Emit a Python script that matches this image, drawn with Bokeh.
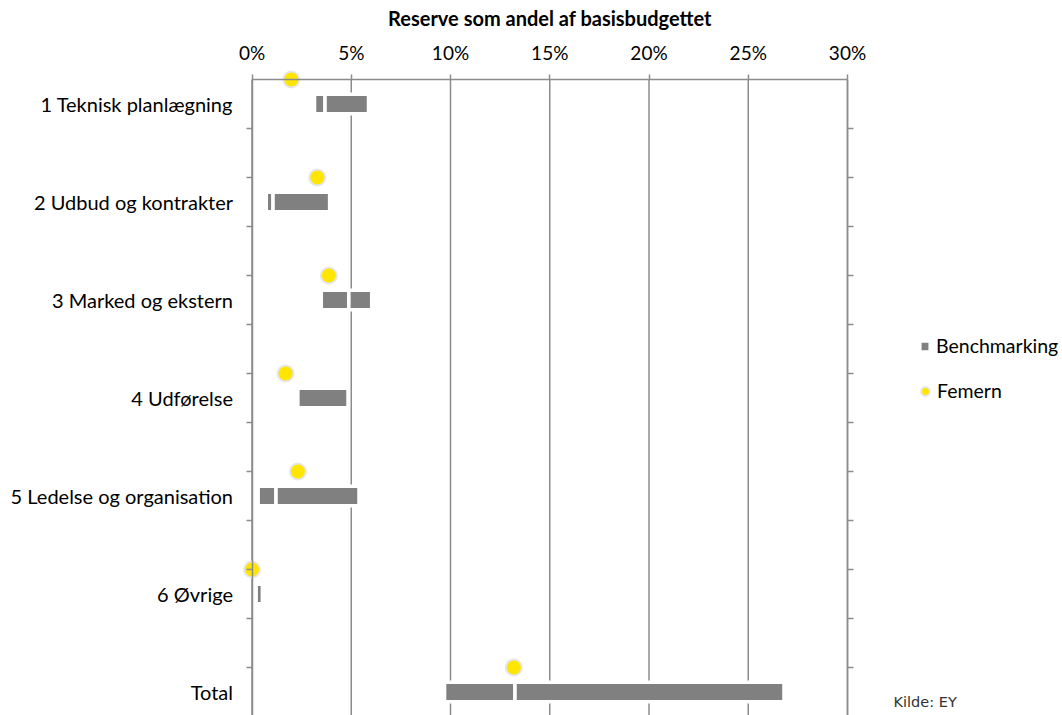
from bokeh.plotting import figure
from bokeh.models import (Range1d, FixedTicker, LinearAxis, Legend, LegendItem,
                          Label, PrintfTickFormatter)
from bokeh.embed import file_html
from bokeh.resources import INLINE

# ---- data ----
categories = ["1 Teknisk planlægning", "2 Udbud og kontrakter", "3 Marked og ekstern",
              "4 Udførelse", "5 Ledelse og organisation", "6 Øvrige", "Total"]
bench_low = [3.15, 0.72, 3.49, 2.31, 0.31, 0.21, 9.70]
bench_mid = [3.68, 1.06, 4.88, 4.85, 1.21, 0.53, 13.25]
bench_high = [5.87, 3.91, 6.03, 4.85, 5.39, 0.53, 26.80]
femern = [1.98, 3.29, 3.87, 1.69, 2.31, 0.0, 13.19]
x_ticks = [0, 5, 10, 15, 20, 25, 30]
title = "Reserve som andel af basisbudgettet"
source_note = "Kilde: EY"

# ---- styling ----
FONT = "Lato"
GRID = "#8c8c8c"
BAR = "#808080"
YELLOW = "#FFE600"

W, H = 1062, 715
PX_X = 19.85     # pixels per percent
X0 = 251.5       # pixel of 0 %
PX_Y = 98.0      # pixels per category
Y0 = 79.0        # pixel of first category row

idx = list(range(len(categories)))
bar_y = [i + 0.25 for i in idx]
dot_y = [float(i) for i in idx]
half_ticks = [k * 0.5 for k in range(1, 14)]

x_start = -X0 / PX_X
x_end = x_start + W / PX_X
y_top = -Y0 / PX_Y
y_bottom = y_top + H / PX_Y

p = figure(width=W, height=H,
           x_range=Range1d(x_start, x_end), y_range=Range1d(y_bottom, y_top),
           output_backend="svg", toolbar_location=None,
           x_axis_type=None, y_axis_type=None,
           min_border_left=0, min_border_right=0, min_border_top=0, min_border_bottom=0,
           outline_line_color=None)

# vertical gridlines
p.segment(x0=x_ticks, y0=[0] * len(x_ticks), x1=x_ticks, y1=[y_bottom] * len(x_ticks),
          line_color=GRID, line_width=1.5)

# top axis
xa = LinearAxis(fixed_location=0, ticker=FixedTicker(ticks=x_ticks),
                formatter=PrintfTickFormatter(format="%d%%"), bounds=(0, 30),
                axis_label=title, axis_label_standoff=8,
                axis_label_text_font=FONT, axis_label_text_font_size="20px",
                axis_label_text_font_style="bold", axis_label_text_color="#000000",
                major_label_text_font=FONT, major_label_text_font_size="19px",
                major_label_text_color="#000000", major_label_standoff=11,
                axis_line_color=GRID, axis_line_width=1.5,
                major_tick_line_color=GRID, major_tick_line_width=1.5,
                major_tick_out=5, major_tick_in=0, minor_tick_out=0, minor_tick_in=0)
p.add_layout(xa, "above")

# left axis (category labels + half ticks)
ya = LinearAxis(fixed_location=0,
                ticker=FixedTicker(ticks=bar_y, minor_ticks=half_ticks),
                bounds=(0, y_bottom),
                major_label_overrides={y: c for y, c in zip(bar_y, categories)},
                major_label_text_font=FONT, major_label_text_font_size="20px",
                major_label_text_color="#000000", major_label_standoff=13,
                axis_line_color=GRID, axis_line_width=1.5,
                major_tick_out=0, major_tick_in=0,
                minor_tick_out=6, minor_tick_in=0,
                minor_tick_line_color=GRID, minor_tick_line_width=1.5)
p.add_layout(ya, "left")

# right axis (ticks only)
ra = LinearAxis(fixed_location=30,
                ticker=FixedTicker(ticks=[], minor_ticks=half_ticks),
                bounds=(0, y_bottom),
                major_label_text_font_size="0px",
                axis_line_color=GRID, axis_line_width=1.5,
                major_tick_out=0, major_tick_in=0,
                minor_tick_out=6, minor_tick_in=0,
                minor_tick_line_color=GRID, minor_tick_line_width=1.5)
p.add_layout(ra, "right")

# benchmark bars (two stacked segments)
bar_kw = dict(height=0.2, fill_color=BAR, line_color="white", line_width=3.5)
r_bar = p.hbar(y=bar_y, left=bench_low, right=bench_mid, **bar_kw)
p.hbar(y=bar_y, left=bench_mid, right=bench_high, **bar_kw)

# Femern dots
r_dot = p.scatter(x=femern, y=dot_y, size=16, fill_color=YELLOW,
                  line_color="#e6e6e6", line_width=2)

leg_kw = dict(padding=0, margin=0, border_line_color=None, background_fill_alpha=0,
              label_text_font=FONT, label_text_font_size="19.5px",
              label_text_color="#000000")
p.add_layout(Legend(items=[LegendItem(label="Benchmarking", renderers=[r_bar])],
                    location=(918, 358), glyph_width=13, glyph_height=14,
                    label_height=14, label_standoff=5, **leg_kw))
p.add_layout(Legend(items=[LegendItem(label="Femern", renderers=[r_dot])],
                    location=(914, 313), glyph_width=22, glyph_height=22,
                    label_height=22, label_standoff=1, **leg_kw))

p.add_layout(Label(x=32.32, y=6.35, text=source_note, text_font="DejaVu Sans",
                   text_font_size="14.5px", text_baseline="middle", text_color="#333333"))

open("out.html", "w").write(file_html(p, INLINE))
